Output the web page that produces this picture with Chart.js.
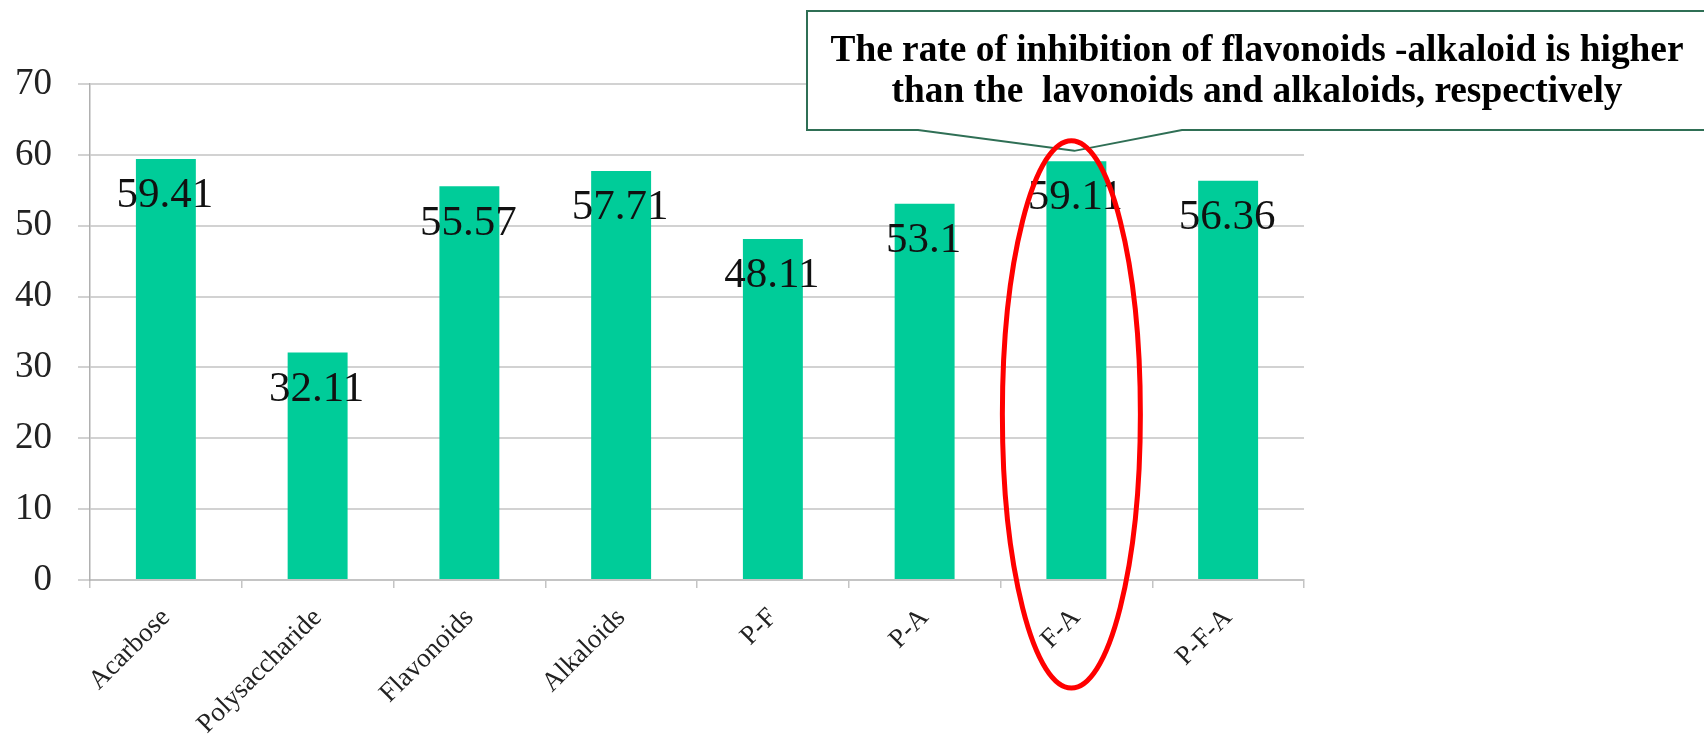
<!DOCTYPE html>
<html>
<head>
<meta charset="utf-8">
<script src="https://cdn.jsdelivr.net/npm/chart.js@4/dist/chart.umd.min.js"></script>
<style>
	html, body { margin: 0; padding: 0; background: #fff; }
	#wrap { width: 1704px; height: 743px; }
</style>
</head>
<body>
<div id="wrap"><canvas id="inhibitionChart" width="1704" height="743"></canvas></div>
<script>
const categories = ['Acarbose', 'Polysaccharide', 'Flavonoids', 'Alkaloids', 'P-F', 'P-A', 'F-A', 'P-F-A'];
const inhibition = [59.41, 32.11, 55.57, 57.71, 48.11, 53.1, 59.11, 56.36];
const yTicks = [0, 10, 20, 30, 40, 50, 60, 70];
const noteLines = [
	'The rate of inhibition of flavonoids -alkaloid is higher',
	'than the  lavonoids and alkaloids, respectively',
];
const highlightIndex = 6; // F-A

// 柱内数值标签
const valueLabels = {
	id: 'valueLabels',
	afterDatasetsDraw(chart) {
		const ctx = chart.ctx;
		const meta = chart.getDatasetMeta(0);
		ctx.save();
		ctx.font = '43px "Liberation Serif"';
		ctx.fillStyle = '#111';
		ctx.textAlign = 'center';
		ctx.textBaseline = 'middle';
		meta.data.forEach((bar, i) => {
			ctx.fillText(String(inhibition[i]), bar.x - 1, bar.y + 37);
		});
		ctx.restore();
	},
};

// 标注框 + 红色椭圆
const callout = {
	id: 'callout',
	afterDraw(chart) {
		const ctx = chart.ctx;
		const x = chart.scales.x;
		const y = chart.scales.y;
		const cx = x.getPixelForValue(highlightIndex);

		// callout box
		const left = 807, top = 11, right = chart.width + 6, bottom = 130;
		const tipX = cx - 2, tipY = y.getPixelForValue(60) - 4;
		ctx.save();
		ctx.beginPath();
		ctx.moveTo(left, top);
		ctx.lineTo(right, top);
		ctx.lineTo(right, bottom);
		ctx.lineTo(1182, bottom);
		ctx.lineTo(tipX, tipY);
		ctx.lineTo(918, bottom);
		ctx.lineTo(left, bottom);
		ctx.closePath();
		ctx.fillStyle = '#fff';
		ctx.fill();
		ctx.lineWidth = 2;
		ctx.strokeStyle = '#2f6f55';
		ctx.stroke();

		ctx.font = 'bold 38px "Liberation Serif"';
		ctx.fillStyle = '#000';
		ctx.textAlign = 'center';
		ctx.textBaseline = 'alphabetic';
		const sx = 853 / ctx.measureText(noteLines[0]).width;
		const textX = 1257;
		[61, 102].forEach((baseY, i) => {
			ctx.save();
			ctx.translate(textX, baseY);
			ctx.scale(sx, 1);
			ctx.fillText(noteLines[i], 0, 0);
			ctx.restore();
		});

		// red ellipse around F-A
		const topY = y.getPixelForValue(62);
		const botY = 688;
		ctx.beginPath();
		ctx.ellipse(cx - 5, (topY + botY) / 2, 69, (botY - topY) / 2, 0, 0, Math.PI * 2);
		ctx.lineWidth = 5;
		ctx.strokeStyle = '#ff0000';
		ctx.stroke();
		ctx.restore();
	},
};

const ctx = document.getElementById('inhibitionChart');
const chart = new Chart(ctx, {
	type: 'bar',
	data: {
		labels: categories,
		datasets: [
			{
				data: inhibition,
				backgroundColor: '#00cc99',
				barPercentage: 0.395,
				categoryPercentage: 1,
			},
		],
	},
	plugins: [valueLabels, callout],
	options: {
		responsive: false,
		animation: false,
		events: [],
		layout: {
			padding: { top: 84, right: 400, left: 0, bottom: 0 },
		},
		plugins: {
			legend: { display: false },
			tooltip: { enabled: false },
		},
		scales: {
			x: {
				afterFit: (s) => { s.height = 163; },
				grid: {
					offset: true,
					drawOnChartArea: false,
					drawTicks: true,
					tickLength: 8,
					color: '#c4c4c4',
					lineWidth: 1.5,
				},
				border: { color: '#c4c4c4', width: 2 },
				ticks: {
					maxRotation: 45,
					minRotation: 45,
					padding: 14,
					color: '#222',
					font: { family: 'Liberation Serif', size: 27 },
				},
			},
			y: {
				min: 0,
				max: 70,
				afterFit: (s) => { s.width = 90; },
				afterBuildTicks: (s) => { s.ticks = yTicks.map((v) => ({ value: v })); },
				grid: {
					color: '#d2d2d2',
					lineWidth: 2,
					tickLength: 12,
				},
				border: { color: '#b0b0b0', width: 1.5 },
				ticks: {
					padding: 26,
					color: '#222',
					font: { family: 'Liberation Serif', size: 37 },
				},
			},
		},
	},
});
</script>
</body>
</html>
